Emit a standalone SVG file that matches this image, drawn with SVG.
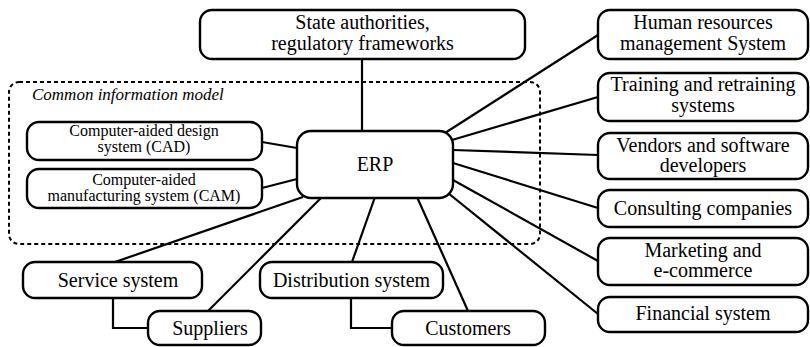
<svg xmlns="http://www.w3.org/2000/svg" width="810" height="347" viewBox="0 0 810 347">
<style>
.box{fill:#fff;stroke:#000;stroke-width:2.4}
.ln{stroke:#000;stroke-width:2.2;fill:none}
.dash{fill:none;stroke:#000;stroke-width:2;stroke-dasharray:4 3}
.t20{font-size:20px}
.t17{font-size:16px}
.it{font-size:17px;font-style:italic;text-anchor:start}
</style>
<rect x="0" y="0" width="810" height="347" fill="#fff"/>
<rect class="dash" x="9" y="82" width="531" height="162" rx="10"/>
<g font-family="'Liberation Serif', 'Times New Roman', 'DejaVu Serif', serif" fill="#000" text-anchor="middle">
<text class="it" x="32" y="100">Common information model</text>
</g>
<g id="connectors">
<line class="ln" x1="362" y1="59" x2="362" y2="131"/>
<line class="ln" x1="262" y1="142" x2="297" y2="148"/>
<line class="ln" x1="262" y1="188" x2="297" y2="179"/>
<line class="ln" x1="115" y1="262" x2="303" y2="197"/>
<line class="ln" x1="207" y1="312" x2="322" y2="197"/>
<line class="ln" x1="352" y1="262" x2="375" y2="197"/>
<line class="ln" x1="417" y1="197" x2="468" y2="311"/>
<line class="ln" x1="445" y1="133" x2="598" y2="35"/>
<line class="ln" x1="452" y1="140" x2="598" y2="97"/>
<line class="ln" x1="453" y1="150" x2="598" y2="155"/>
<line class="ln" x1="453" y1="163" x2="598" y2="208"/>
<line class="ln" x1="453" y1="180" x2="598" y2="261"/>
<line class="ln" x1="448" y1="193" x2="598" y2="314"/>
<polyline class="ln" points="113,298 113,328 148,328"/>
<polyline class="ln" points="351,298 351,328 392,328"/>
</g>
<g font-family="'Liberation Serif', 'Times New Roman', 'DejaVu Serif', serif" fill="#000" text-anchor="middle">
<g id="state"><rect class="box" x="200" y="10" width="325" height="49" rx="12"/><text class="t20" x="362.5" y="29">State authorities,</text><text class="t20" x="362.5" y="50">regulatory frameworks</text></g>
<g id="erp"><rect class="box" x="297" y="131" width="156" height="67" rx="14"/><text class="t20" x="375" y="171">ERP</text></g>
<g id="cad"><rect class="box" x="27" y="122" width="235" height="38" rx="12"/><text class="t17" x="144" y="136">Computer-aided design</text><text class="t17" x="144" y="152">system (CAD)</text></g>
<g id="cam"><rect class="box" x="27" y="169" width="235" height="39" rx="12"/><text class="t17" x="144" y="185">Computer-aided</text><text class="t17" x="144" y="201">manufacturing system (CAM)</text></g>
<g id="hr"><rect class="box" x="598" y="10" width="210" height="49" rx="12"/><text class="t20" x="703" y="29">Human resources</text><text class="t20" x="703" y="50">management System</text></g>
<g id="training"><rect class="box" x="598" y="73" width="210" height="48" rx="12"/><text class="t20" x="703" y="91">Training and retraining</text><text class="t20" x="703" y="112">systems</text></g>
<g id="vendors"><rect class="box" x="598" y="133" width="210" height="46" rx="12"/><text class="t20" x="703" y="152">Vendors and software</text><text class="t20" x="703" y="172">developers</text></g>
<g id="consulting"><rect class="box" x="598" y="190" width="210" height="37" rx="12"/><text class="t20" x="703" y="215">Consulting companies</text></g>
<g id="marketing"><rect class="box" x="598" y="238" width="210" height="47" rx="12"/><text class="t20" x="703" y="257">Marketing and</text><text class="t20" x="703" y="277">e-commerce</text></g>
<g id="financial"><rect class="box" x="598" y="297" width="210" height="35" rx="12"/><text class="t20" x="703" y="320">Financial system</text></g>
<g id="service"><rect class="box" x="23" y="262" width="179" height="36" rx="12"/><text class="t20" x="118" y="287">Service system</text></g>
<g id="suppliers"><rect class="box" x="148" y="311" width="113" height="34" rx="12"/><text class="t20" x="210" y="335">Suppliers</text></g>
<g id="distribution"><rect class="box" x="260" y="262" width="183" height="36" rx="12"/><text class="t20" x="351.5" y="287">Distribution system</text></g>
<g id="customers"><rect class="box" x="392" y="311" width="153" height="34" rx="12"/><text class="t20" x="468" y="335">Customers</text></g>
</g>
</svg>
